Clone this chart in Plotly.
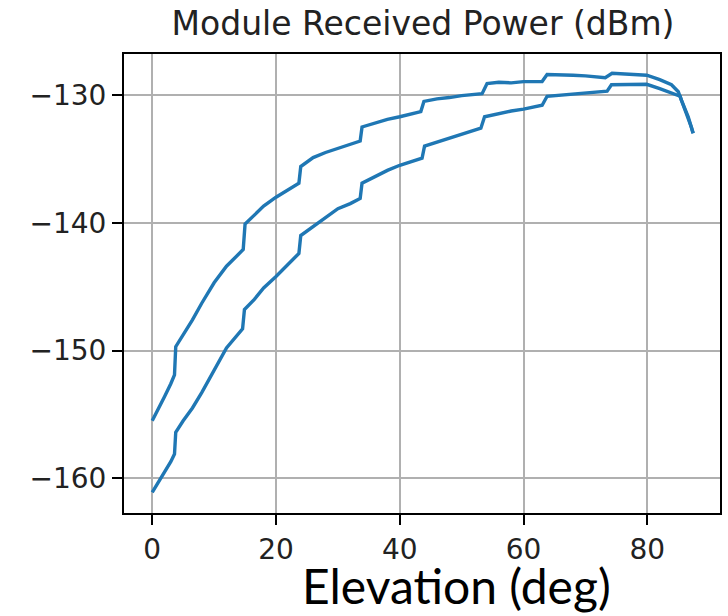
import plotly.graph_objects as go

# Upper curve (elevation deg, received power dBm)
upper_x = [0, 1, 2, 3, 3.6, 3.8, 5, 6.5, 8, 10, 12, 14.7, 15.0, 16.5, 18, 20, 22, 23.7, 24.0,
           26, 28, 30, 32, 33.6, 33.9, 36, 38, 40, 43.4, 43.9, 46, 48, 50, 53.3, 54.1, 56, 58,
           60, 63.0, 63.8, 66, 68, 70, 73.2, 74.3, 76, 78, 79.9, 82, 83.9, 85.0, 85.5, 86.6,
           87.1, 87.4]
upper_y = [-155.5, -154.6, -153.6, -152.6, -151.9, -149.7, -148.8, -147.6, -146.3, -144.7,
           -143.4, -142.1, -140.1, -139.4, -138.7, -138.0, -137.4, -136.9, -135.6, -134.9,
           -134.5, -134.2, -133.9, -133.6, -132.5, -132.2, -131.9, -131.7, -131.3, -130.5,
           -130.3, -130.2, -130.05, -129.9, -129.1, -129.0, -129.05, -128.95, -128.95, -128.4,
           -128.4, -128.45, -128.5, -128.65, -128.3, -128.35, -128.4, -128.45, -128.8, -129.2,
           -129.74, -130.4, -131.7, -132.5, -133.0]

# Lower curve
lower_x = [0, 1, 2, 3, 3.6, 3.8, 5, 6.5, 8, 10, 12, 14.6, 14.9, 16.5, 18, 20, 22, 23.7, 24.0,
           26, 28, 30, 32, 33.6, 33.9, 36, 38, 40, 43.6, 44.0, 46, 48, 50, 53.1, 53.7, 56, 58,
           60, 63.0, 63.8, 66, 68, 70, 73.5, 74.2, 76, 78, 79.9, 82, 84.2, 85.3, 85.5, 86.6,
           87.1, 87.4]
lower_y = [-161.1, -160.3, -159.6, -158.7, -158.1, -156.4, -155.5, -154.5, -153.3, -151.5,
           -149.8, -148.3, -146.8, -146.0, -145.1, -144.2, -143.2, -142.4, -141.0, -140.3,
           -139.6, -138.9, -138.5, -138.1, -136.9, -136.4, -135.9, -135.5, -134.95, -134.0,
           -133.7, -133.35, -133.05, -132.6, -131.7, -131.45, -131.25, -131.1, -130.8, -130.1,
           -130.0, -129.9, -129.8, -129.7, -129.2, -129.2, -129.2, -129.16, -129.5, -129.87,
           -130.1, -130.4, -131.7, -132.5, -133.0]

x_ticks = [0, 20, 40, 60, 80]
y_ticks = [-130, -140, -150, -160]
y_tick_labels = ["\u2212130", "\u2212140", "\u2212150", "\u2212160"]

LINE = "#1f77b4"

fig = go.Figure()
for xs, ys in [(upper_x, upper_y), (lower_x, lower_y)]:
    fig.add_trace(go.Scatter(x=xs, y=ys, mode="lines",
                             line=dict(color=LINE, width=3.4),
                             showlegend=False))

axis_common = dict(
    showgrid=True, gridcolor="#b0b0b0", gridwidth=1.5,
    showline=True, linecolor="black", linewidth=2, mirror=True,
    ticks="outside", ticklen=10, tickwidth=2, tickcolor="black",
    zeroline=False,
    tickfont=dict(family="DejaVu Sans", size=28, color="#222222"),
)

fig.update_xaxes(range=[-4.56, 91.74], tickvals=x_ticks, **axis_common)
fig.update_yaxes(range=[-162.72, -126.79], tickvals=y_ticks, ticktext=y_tick_labels,
                 ticklabelstandoff=0, **axis_common)

fig.update_layout(
    width=728, height=616,
    margin=dict(l=124, r=6, t=54, b=103),
    plot_bgcolor="white", paper_bgcolor="white",
    title=dict(text="Module Received Power (dBm)",
               font=dict(family="DejaVu Sans", size=33, color="#222222"),
               x=(423 / 728), xanchor="center",
               y=1 - 23 / 616, yanchor="middle"),
    annotations=[dict(text="Elevation (deg)", xref="paper", yref="paper",
                      x=(457.5 - 124) / 598, y=(513 - 585) / 459,
                      xanchor="center", yanchor="middle", showarrow=False,
                      font=dict(family="Lato", size=48, color="black"))],
)

fig.write_html("out.html")
